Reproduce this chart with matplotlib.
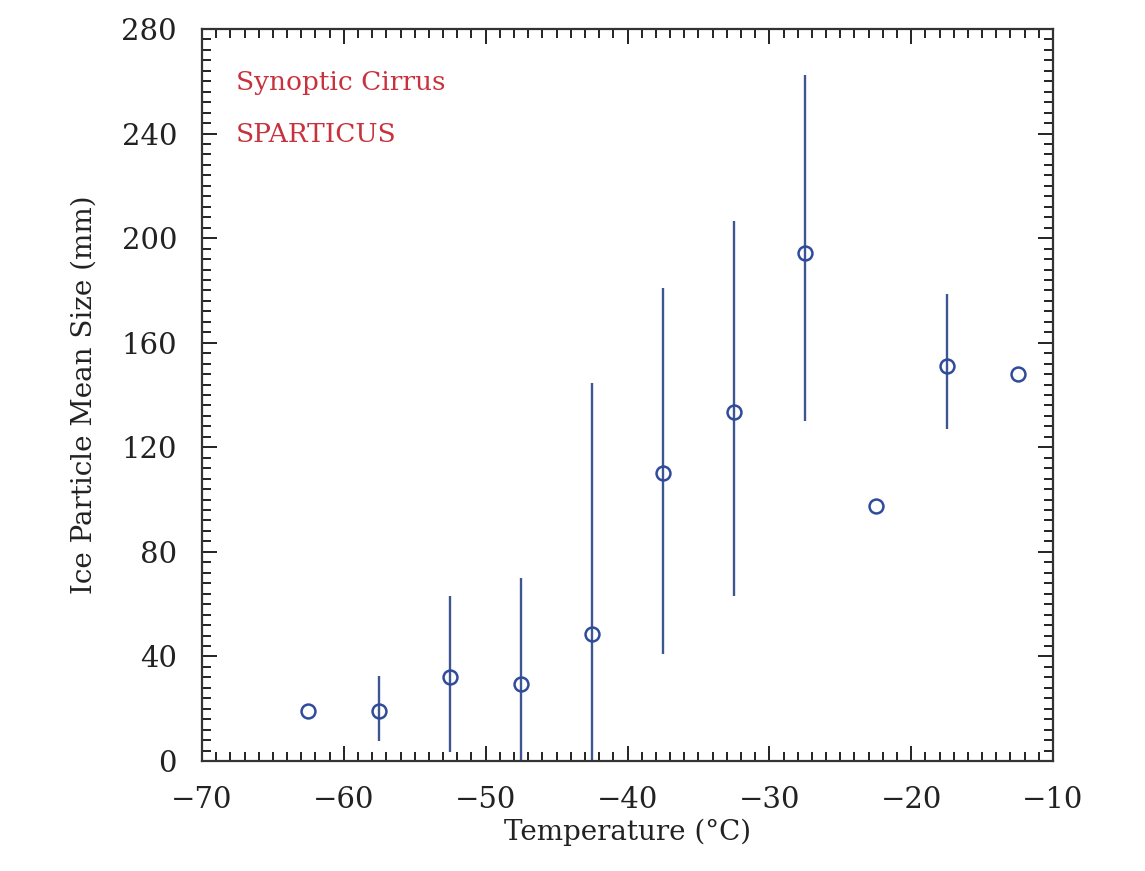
import matplotlib
matplotlib.use("Agg")
import matplotlib.pyplot as plt
from matplotlib.ticker import MultipleLocator

# Data
temperature = [-62.5, -57.5, -52.5, -47.5, -42.5, -37.5, -32.5, -27.5, -22.5, -17.5, -12.5]
mean_size = [19, 19, 32, 29.5, 48.5, 110, 133.5, 194.5, 97.5, 151, 148]
err_low = [19, 7.5, 3.5, 0, 0, 41, 63, 130, 97.5, 127, 148]
err_high = [19, 32.5, 63, 70, 144.5, 181, 206.5, 262.5, 97.5, 178.5, 148]

labels = ["Synoptic Cirrus", "SPARTICUS"]

plt.rcParams['font.family'] = ['DejaVu Serif']
plt.rcParams['axes.unicode_minus'] = True

fig = plt.figure(figsize=(11.45, 8.71), dpi=100)
ax = fig.add_axes([202 / 1145, 1 - 761 / 871, (1053 - 202) / 1145, (761 - 29) / 871])

lo = [m - l for m, l in zip(mean_size, err_low)]
hi = [h - m for m, h in zip(mean_size, err_high)]
ax.errorbar(temperature, mean_size, yerr=[lo, hi], fmt='none', ecolor='#3d5590',
            elinewidth=1.7, capsize=0, zorder=2)
ax.plot(temperature, mean_size, 'o', mfc='none', mec='#2f4b9c', mew=1.8,
        ms=10, zorder=3)

ax.set_xlim(-70, -10)
ax.set_ylim(0, 280)
ax.xaxis.set_major_locator(MultipleLocator(10))
ax.xaxis.set_minor_locator(MultipleLocator(1))
ax.yaxis.set_major_locator(MultipleLocator(40))
ax.yaxis.set_minor_locator(MultipleLocator(4))
ax.tick_params(which='both', direction='in', top=True, right=True, color='#222222', width=1.4)
ax.tick_params(which='major', length=11, labelsize=21, pad=18, labelcolor='#222222')
ax.tick_params(which='minor', length=6.5)
for s in ax.spines.values():
    s.set_linewidth(1.6)
    s.set_color('#333333')

ax.set_xlabel('Temperature (°C)', fontsize=20, color='#222222', labelpad=3)
ax.set_ylabel('Ice Particle Mean Size (mm)', fontsize=20, color='#222222', labelpad=17)

ax.text(-67.6, 259.5, labels[0], fontsize=19, color='#c8323c', va='center', ha='left')
ax.text(-67.6, 239.5, labels[1], fontsize=19, color='#c8323c', va='center', ha='left')

fig.savefig('out.png', dpi=100)
